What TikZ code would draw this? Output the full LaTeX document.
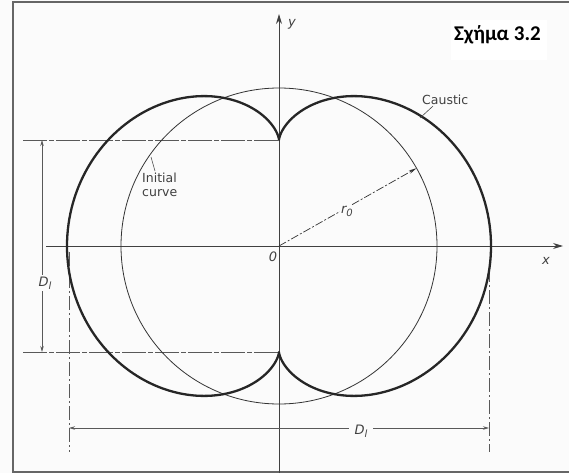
\documentclass[tikz,border=0pt]{standalone}
\usepackage{fontspec}
\setmainfont{DejaVu Sans}
\newfontfamily\titlefont{Carlito}
\usetikzlibrary{arrows.meta}
\begin{document}
\begin{tikzpicture}[x=1pt,y=-1pt,
  thinline/.style={draw=black!80, line width=0.8pt},
  causticline/.style={draw=black!85, line width=2.3pt, line join=round},
  axisline/.style={draw=black!75, line width=0.9pt},
  extline/.style={draw=black!65, line width=0.8pt, dash pattern=on 24pt off 2pt on 5pt off 2pt},
  dimline/.style={draw=black!65, line width=0.8pt},
  leader/.style={draw=black!70, line width=0.6pt},
  lbl/.style={font=\fontsize{12.5}{13.5}\selectfont, text=black!75, inner sep=1pt},
  mlbl/.style={font=\fontsize{13}{15}\selectfont\itshape, text=black!75, inner sep=1.5pt},
  bgfill/.style={fill=gray!3},
  bigtip/.style={-{Stealth[length=10pt,width=6pt]}},
  smalltip/.style={{Stealth[length=6pt,width=3.5pt]}-{Stealth[length=6pt,width=3.5pt]}}
]
\useasboundingbox (0,0) rectangle (569,473);
\fill[gray!3] (0,0) rectangle (569,473);
\draw[black!60, line width=1.2pt] (569,2) -- (13,2) -- (13,472) -- (569,472);

% title
\fill[white] (451,20) rectangle (547,60);
\node[font=\titlefont\bfseries\fontsize{21}{25}\selectfont, inner sep=0pt] (title) at (497.5,35) {Σχήμα 3.2};

% key points
\coordinate (O) at (279,246);
\coordinate (ytop) at (279,14);
\coordinate (ybot) at (279,473);
\coordinate (xl) at (46,246);
\coordinate (xr) at (563,246);
\coordinate (cuspT) at (279,140);
\coordinate (cuspB) at (279,352);
\coordinate (hT) at (23,140);
\coordinate (hB) at (23,352);
\coordinate (R) at (416.5,168.2);

% extension lines
\draw[extline] (hT) -- (cuspT);
\draw[extline] (hB) -- (cuspB);
\draw[extline, dash pattern=on 14pt off 3pt on 2pt off 3pt] (69,252) -- (69,452);
\draw[extline, dash pattern=on 14pt off 3pt on 2pt off 3pt] (489,268) -- (489,452);

% axes
\draw[axisline] (ybot) -- (O);
\draw[axisline, bigtip] (O) -- (ytop);
\draw[axisline] (xl) -- (O);
\draw[axisline, bigtip] (O) -- (xr);
\node[mlbl] (ylab) at (292,24) {y};
\node[mlbl] (xlab) at (546,261) {x};
\node[mlbl] (olab) at (273,257) {0};

% initial circle
\draw[thinline] (O) circle[radius=158];

% caustic (nephroid)
\draw[causticline] plot[domain=0:360, samples=361, variable=\t]
  ({279+53*(3*sin(\t)-sin(3*\t))},{246-53*(3*cos(\t)-cos(3*\t))}) -- cycle;

% radius r0
\draw[thinline, line width=0.7pt, dash pattern=on 8pt off 2pt on 2pt off 2pt,
  -{Stealth[length=8pt,width=3.5pt]}] (O) -- (R);
\node[mlbl, bgfill, inner sep=1pt] (r0) at (347,211) {r\raisebox{-3pt}{\fontsize{10}{10}\selectfont 0}};

% dimension D_l vertical
\draw[dimline, smalltip] (42,140) -- (42,352);
\node[mlbl, bgfill] (Dv) at (45,283) {D\raisebox{-3pt}{\fontsize{10}{10}\selectfont l}};

% dimension D_l horizontal
\draw[dimline, smalltip] (69,428) -- (489,428);
\node[mlbl, bgfill, inner xsep=6pt] (Dh) at (361,431) {D\raisebox{-3pt}{\fontsize{10}{10}\selectfont l}};

% labels with leaders
\node[lbl, align=left, anchor=north west] (init) at (141,172) {Initial\\curve};
\coordinate (initpt) at (151,157);
\draw[leader] (initpt) -- ([xshift=14pt,yshift=1pt]init.north west);

\node[lbl, anchor=west] (caus) at (421,100) {Caustic};
\coordinate (causpt) at (420,118);
\draw[leader] ([xshift=12pt]caus.south west) -- (causpt);
\end{tikzpicture}
\end{document}
